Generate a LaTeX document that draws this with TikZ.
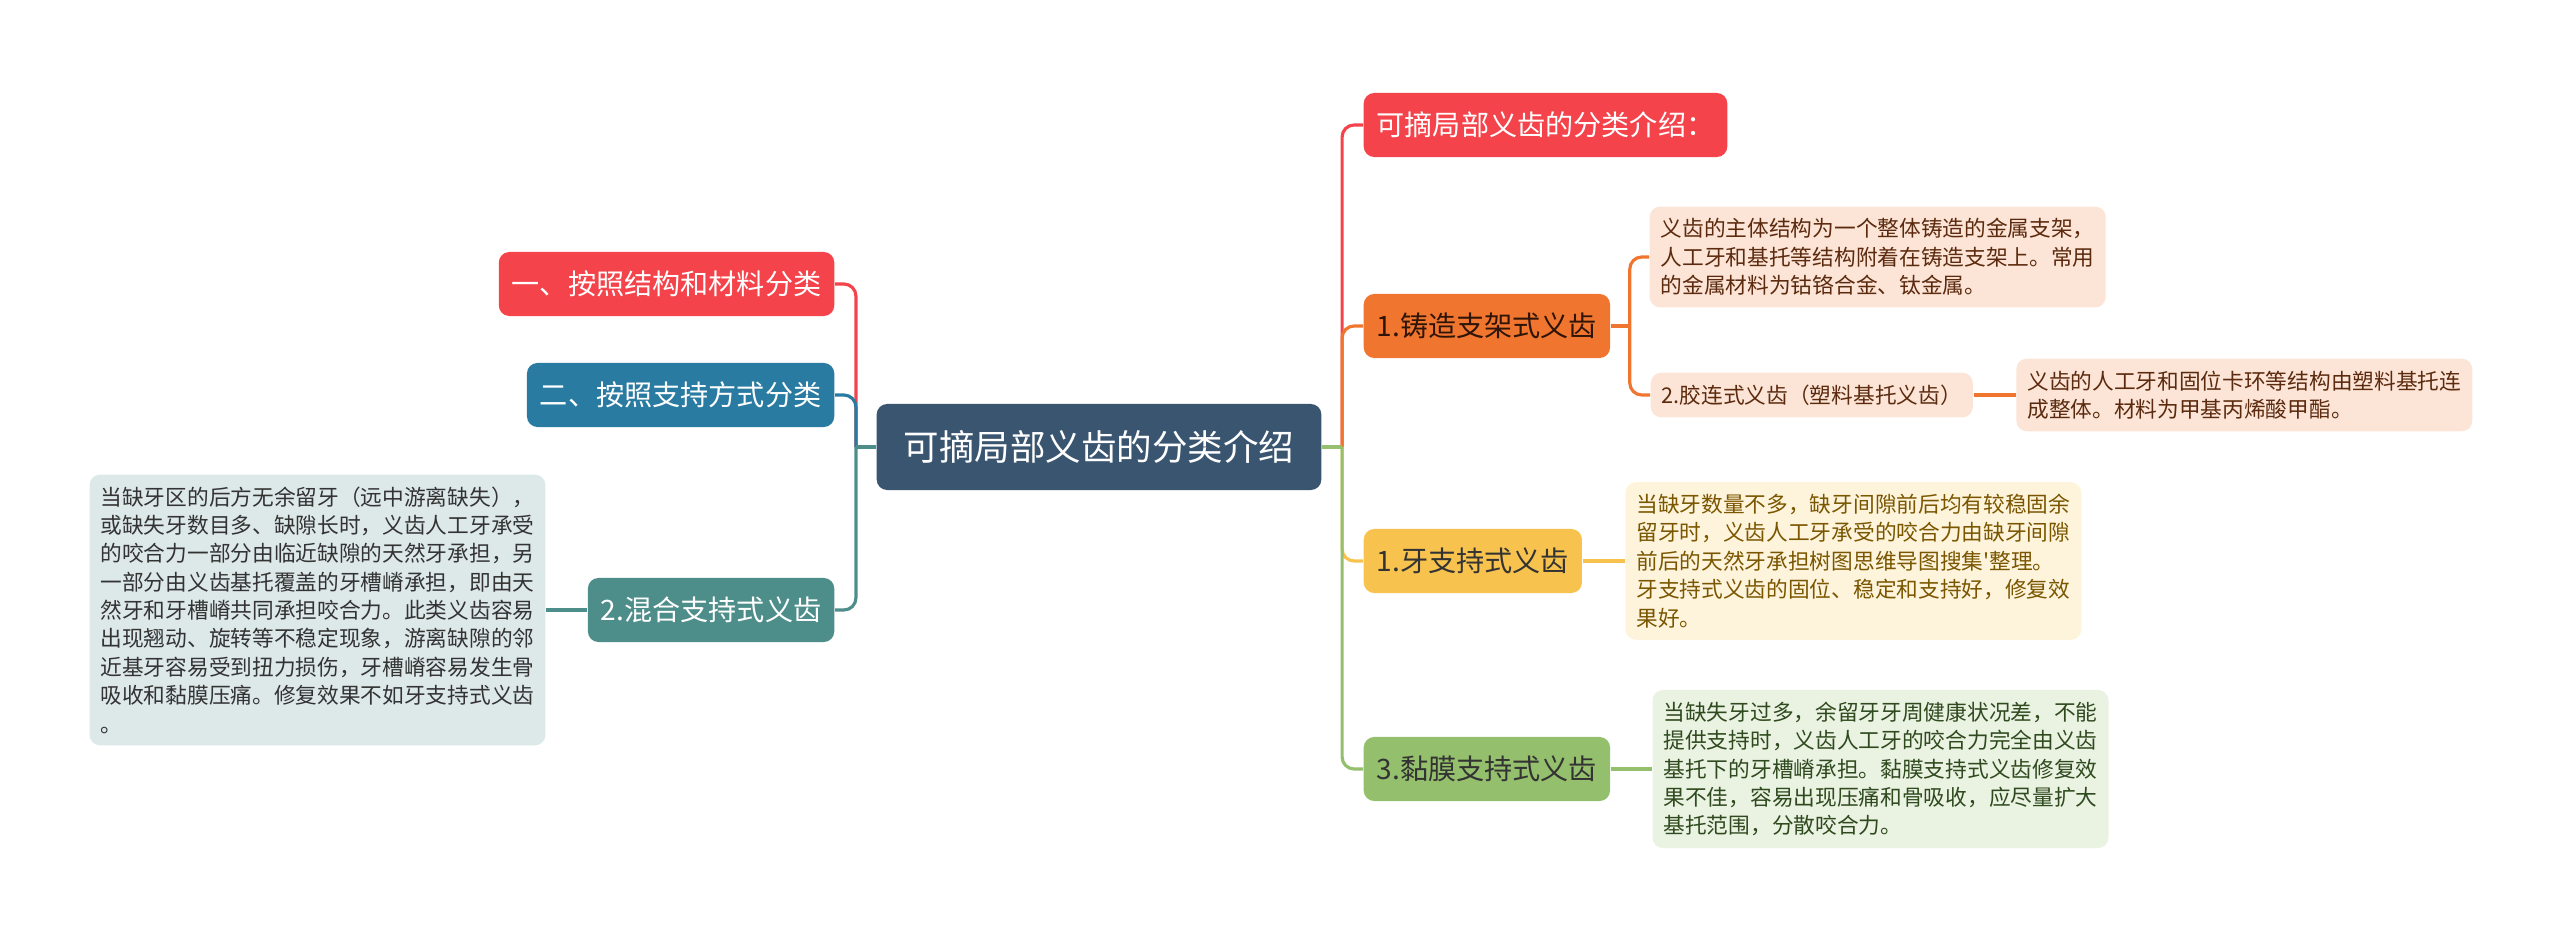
\documentclass[tikz,border=0pt]{standalone}
\usepackage{fontspec}
\usepackage{tikz}
\usetikzlibrary{positioning, calc}
\newfontfamily\cjk{Noto Sans CJK SC}
\definecolor{mapdark}{HTML}{3A5570}
\definecolor{mapred}{HTML}{F4434B}
\definecolor{mapblue}{HTML}{2A7BA1}
\definecolor{mapteal}{HTML}{4E8E8A}
\definecolor{maporange}{HTML}{F0752F}
\definecolor{mapyellow}{HTML}{F7C34E}
\definecolor{mapgreen}{HTML}{94BF6C}
\definecolor{tealpale}{HTML}{DDE8E8}
\definecolor{orangepale}{HTML}{FCE5D7}
\definecolor{yellowpale}{HTML}{FEF4DC}
\definecolor{greenpale}{HTML}{EAF2E2}
\definecolor{orangeink}{HTML}{5C2A0E}
\definecolor{yellowink}{HTML}{7A5600}
\definecolor{greenink}{HTML}{2F4A1E}
\definecolor{greyink}{HTML}{333333}

\begin{document}
\begin{tikzpicture}[
    x=0.01cm, y=-0.01cm,
    root/.style={
      rectangle, rounded corners=3pt, fill=mapdark, text=white,
      font=\cjk\fontsize{10.1}{12}\selectfont,
      inner xsep=0.27cm, minimum height=0.86cm
    },
    topic/.style={
      rectangle, rounded corners=3pt,
      font=\cjk\fontsize{8}{9.6}\selectfont,
      inner xsep=0.13cm, minimum height=0.64cm
    },
    note/.style={
      rectangle, rounded corners=3pt, align=left,
      font=\cjk\fontsize{6.17}{8.06}\selectfont,
      inner xsep=0.11cm, inner ysep=0.12cm
    },
    link/.style={line width=0.9pt, rounded corners=0.12cm},
  ]
  \useasboundingbox (0,0) rectangle (2560,943);

  \node[root] (root) at (1099,447) {可摘局部义齿的分类介绍};
  \coordinate (lhub) at ([xshift=-0.2cm]root.west);
  \coordinate (rhub) at ([xshift=0.2cm]root.east);

  % left side
  \node[topic, fill=mapred, text=white, anchor=east] (l1) at (835,284) {一、按照结构和材料分类};
  \node[topic, fill=mapblue, text=white, anchor=east] (l2) at (835,395) {二、按照支持方式分类};
  \node[topic, fill=mapteal, text=white, anchor=east] (l3) at (835,610) {2.混合支持式义齿};
  \node[note, fill=tealpale, text=greyink, left=0.41cm of l3] (l3note) {当缺牙区的后方无余留牙（远中游离缺失），\\或缺失牙数目多、缺隙长时，义齿人工牙承受\\的咬合力一部分由临近缺隙的天然牙承担，另\\一部分由义齿基托覆盖的牙槽嵴承担，即由天\\然牙和牙槽嵴共同承担咬合力。此类义齿容易\\出现翘动、旋转等不稳定现象，游离缺隙的邻\\近基牙容易受到扭力损伤，牙槽嵴容易发生骨\\吸收和黏膜压痛。修复效果不如牙支持式义齿\\。};

  % right side
  \node[topic, fill=mapred, text=white, anchor=west] (r0) at (1363,125) {可摘局部义齿的分类介绍：};
  \node[topic, fill=maporange, text=orangeink!50!black, anchor=west] (r1) at (1363,326) {1.铸造支架式义齿};
  \node[topic, fill=mapyellow, text=greyink, anchor=west] (r2) at (1363,561) {1.牙支持式义齿};
  \node[topic, fill=mapgreen, text=greyink, anchor=west] (r3) at (1363,769) {3.黏膜支持式义齿};
  \coordinate (r1hub) at ([xshift=0.19cm]r1.east);

  \node[note, fill=orangepale, text=orangeink, anchor=west] (r1a) at (1649,257) {义齿的主体结构为一个整体铸造的金属支架，\\人工牙和基托等结构附着在铸造支架上。常用\\的金属材料为钴铬合金、钛金属。};
  \node[note, fill=orangepale, text=orangeink, anchor=west] (r1b) at (1650,395) {2.胶连式义齿（塑料基托义齿）};
  \node[note, fill=orangepale, text=orangeink, right=0.42cm of r1b] (r1c) {义齿的人工牙和固位卡环等结构由塑料基托连\\成整体。材料为甲基丙烯酸甲酯。};
  \node[note, fill=yellowpale, text=yellowink, right=0.42cm of r2] (r2a) {当缺牙数量不多，缺牙间隙前后均有较稳固余\\留牙时，义齿人工牙承受的咬合力由缺牙间隙\\前后的天然牙承担树图思维导图搜集'整理。\\牙支持式义齿的固位、稳定和支持好，修复效\\果好。};
  \node[note, fill=greenpale, text=greenink, right=0.41cm of r3] (r3a) {当缺失牙过多，余留牙牙周健康状况差，不能\\提供支持时，义齿人工牙的咬合力完全由义齿\\基托下的牙槽嵴承担。黏膜支持式义齿修复效\\果不佳，容易出现压痛和骨吸收，应尽量扩大\\基托范围，分散咬合力。};

  % Links
  \draw[link, mapred] (lhub) |- (l1.east);
  \draw[link, mapblue] (lhub) |- (l2.east);
  \draw[link, mapteal] (lhub) |- (l3.east);
  \draw[link, mapteal] (root.west) -- (lhub);
  \draw[link, mapteal] (l3.west) -- (l3note.east);

  \draw[link, mapred] (rhub) |- (r0.west);
  \draw[link, maporange] (rhub) |- (r1.west);
  \draw[link, mapyellow] (rhub) |- (r2.west);
  \draw[link, mapgreen] (rhub) |- (r3.west);
  \draw[link, mapgreen] (root.east) -- (rhub);

  \draw[link, maporange] (r1.east) -- (r1hub);
  \draw[link, maporange] (r1hub) |- (r1a.west);
  \draw[link, maporange] (r1hub) |- (r1b.west);
  \draw[link, maporange] (r1b.east) -- (r1c.west);
  \draw[link, mapyellow] (r2.east) -- (r2a.west);
  \draw[link, mapgreen] (r3.east) -- (r3a.west);

\end{tikzpicture}
\end{document}
